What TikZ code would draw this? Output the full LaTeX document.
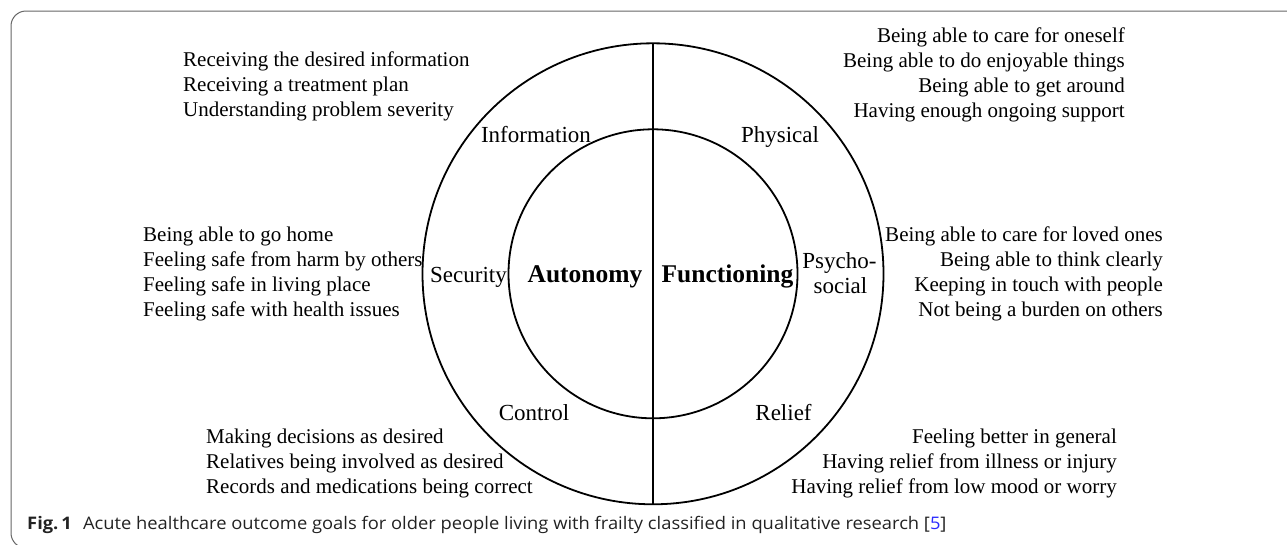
\documentclass[tikz,border=0pt]{standalone}
\usepackage{fontspec}
\setmainfont{Liberation Serif}
\newfontfamily\capfont[FakeStretch=1.06]{Open Sans}
\definecolor{framecol}{HTML}{666666}
\definecolor{refblue}{HTML}{2B2BFF}
\definecolor{captext}{HTML}{222222}
\begin{document}
\begin{tikzpicture}[x=1pt,y=-1pt,
  ring/.style={line width=1.8pt, black},
  item/.style={inner sep=0pt, font=\fontsize{21}{25}\selectfont},
  itemL/.style={item, anchor=base west},
  itemR/.style={item, anchor=base east},
  lab/.style={inner sep=0pt, anchor=base, font=\fontsize{23}{25}\selectfont},
  core/.style={inner sep=0pt, anchor=base, font=\fontsize{25.5}{28}\selectfont\bfseries}]
\useasboundingbox (0,0) rectangle (1287,544);
\begin{scope}
\clip (0,0) rectangle (1287,544);
\draw[framecol, line width=1pt, rounded corners=15pt] (1320,11) -- (11,11) -- (11,548) -- (1320,548);
\end{scope}
% circles
\coordinate (c) at (653,273.8);
\draw[ring] (c) circle[radius=230.5];
\draw[ring] (c) circle[radius=144.5];
\coordinate (top) at (653,43.3);
\coordinate (bot) at (653,504.3);
\draw[ring] (top) -- (bot);
% core labels
\node[core] (auto) at (585,282) {Autonomy};
\node[core] (func) at (727.5,282) {Functioning};
% ring labels
\node[lab] (info) at (536,142) {Information};
\node[lab] (phys) at (780,142) {Physical};
\node[lab] (ctrl) at (534,420) {Control};
\node[lab] (reli) at (783.5,420) {Relief};
\node[lab] (secu) at (468.5,282) {Security};
\node[lab] (psy1) at (839.5,268) {Psycho-};
\node[lab] (psy2) at (840.5,293) {social};
% item blocks
\foreach \t [count=\i] in {Receiving the desired information,Receiving a treatment plan,Understanding problem severity}
  \node[itemL] (tl\i) at (183,{66+25*(\i-1)}) {\t};
\foreach \t [count=\i] in {Being able to care for oneself,Being able to do enjoyable things,Being able to get around,Having enough ongoing support}
  \node[itemR] (tr\i) at (1125,{42+25*(\i-1)}) {\t};
\foreach \t [count=\i] in {Being able to go home,Feeling safe from harm by others,Feeling safe in living place,Feeling safe with health issues}
  \node[itemL] (ml\i) at (143,{241+25*(\i-1)}) {\t};
\foreach \t [count=\i] in {Being able to care for loved ones,Being able to think clearly,Keeping in touch with people,Not being a burden on others}
  \node[itemR] (mr\i) at (1163,{241+25*(\i-1)}) {\t};
\foreach \t [count=\i] in {Making decisions as desired,Relatives being involved as desired,Records and medications being correct}
  \node[itemL] (bl\i) at (206,{443+25*(\i-1)}) {\t};
\foreach \t [count=\i] in {Feeling better in general,Having relief from illness or injury,Having relief from low mood or worry}
  \node[itemR] (br\i) at (1117,{443+25*(\i-1)}) {\t};
% caption
\node[inner sep=0pt, anchor=base west, text=captext, font=\capfont\fontsize{17.3}{19}\selectfont] (cap) at (27,529)
  {\textbf{Fig.\,1}\hspace{0.65em}Acute healthcare outcome goals for older people living with frailty classified in qualitative research [\textcolor{refblue}{5}]};
\end{tikzpicture}
\end{document}
